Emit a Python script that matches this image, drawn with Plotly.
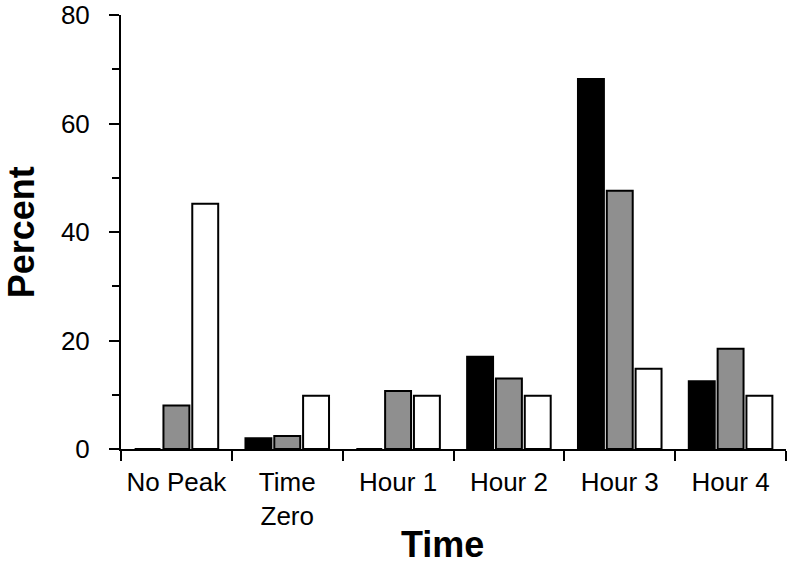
import plotly.graph_objects as go

categories = ["No Peak", "Time<br>Zero", "Hour 1", "Hour 2", "Hour 3", "Hour 4"]
series_black = [0, 2.0, 0, 17.0, 68.2, 12.5]
series_gray = [8.0, 2.4, 10.7, 13.0, 47.6, 18.5]
series_white = [45.2, 9.8, 9.8, 9.8, 14.8, 9.8]

fills = ["#000000", "#8f8f8f", "#ffffff"]
font = "Liberation Sans, Arial, sans-serif"

fig = go.Figure()
for vals, col in zip([series_black, series_gray, series_white], fills):
    fig.add_trace(go.Bar(x=categories, y=vals, marker=dict(color=col, line=dict(color="#000000", width=2))))

fig.update_layout(
    width=788, height=568,
    margin=dict(l=121, r=2, t=15, b=119),
    plot_bgcolor="white", paper_bgcolor="white",
    showlegend=False,
    barmode="group", bargap=0.22, bargroupgap=0.1,
    font=dict(family=font, color="black"),
)
fig.update_xaxes(
    showline=True, linecolor="black", linewidth=2, automargin=False,
    ticks="outside", tickson="boundaries", ticklen=10, tickwidth=2, tickcolor="black",
    tickfont=dict(size=26, family=font), showgrid=False, zeroline=False,
    ticklabelstandoff=9, ticklabeloverflow="allow",
)
fig.update_yaxes(
    range=[0, 80], dtick=20, showline=True, linecolor="black", linewidth=2, automargin=False,
    ticks="outside", ticklen=10, tickwidth=2, tickcolor="black",
    minor=dict(dtick=10, ticks="outside", ticklen=7, tickwidth=2, tickcolor="black", showgrid=False),
    tickfont=dict(size=26, family=font), showgrid=False, zeroline=False,
    ticklabelstandoff=14, ticklabeloverflow="allow",
)
fig.add_annotation(text="<b>Percent</b>", xref="paper", yref="paper", x=-0.150, y=0.5,
                   textangle=-90, showarrow=False, font=dict(size=36, family=font),
                   xanchor="center", yanchor="middle")
fig.add_annotation(text="<b>Time</b>", xref="paper", yref="paper", x=0.483, y=-0.221,
                   showarrow=False, font=dict(size=36, family=font),
                   xanchor="center", yanchor="middle")
fig.write_html("out.html", config={"displayModeBar": False},
               post_script="document.body.style.margin='0';")
